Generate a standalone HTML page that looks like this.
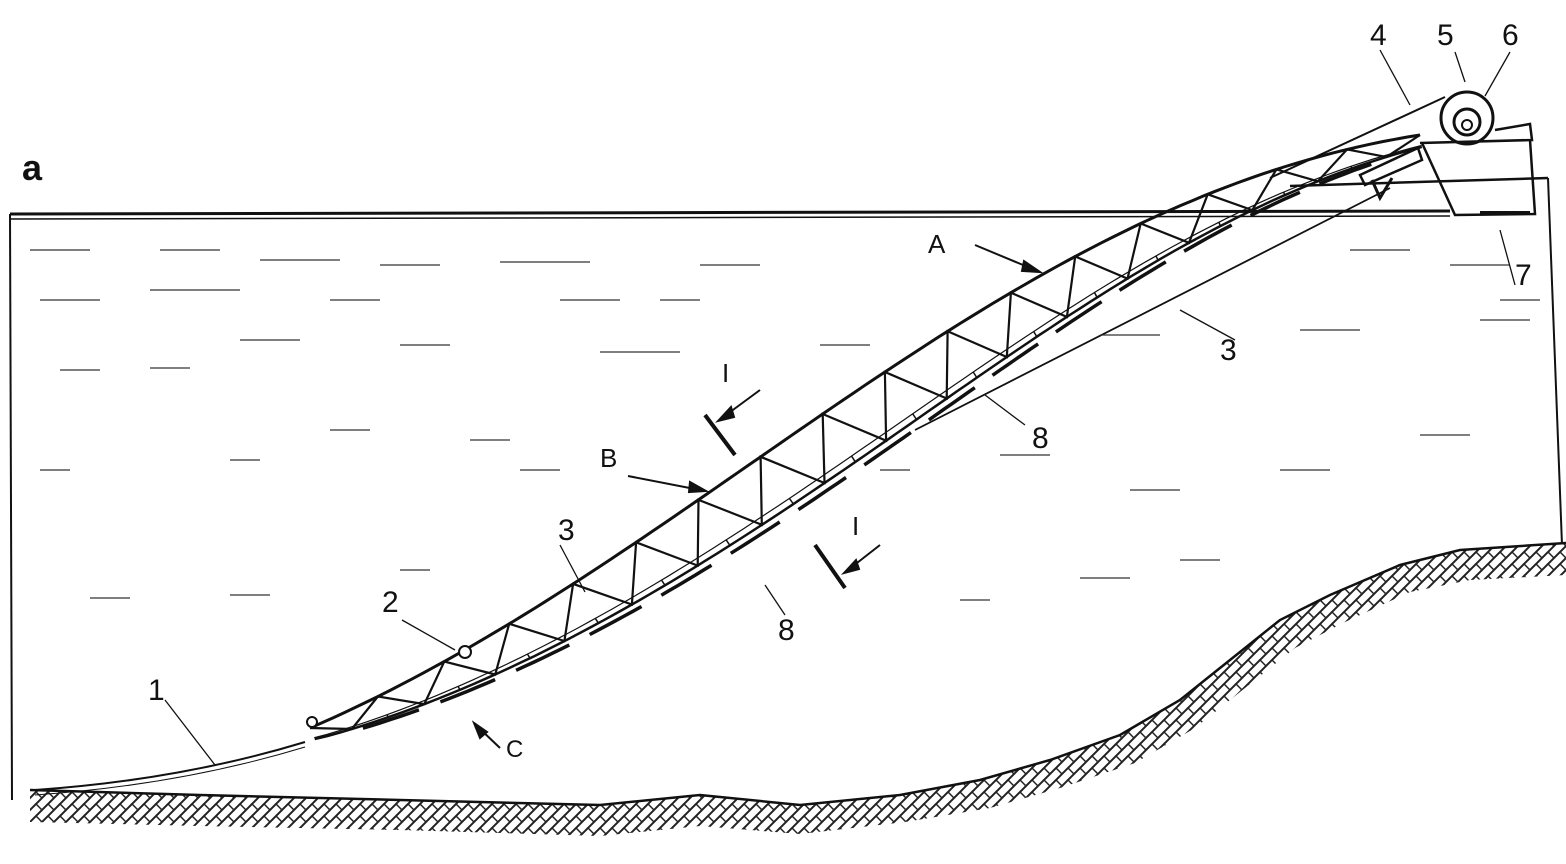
<!DOCTYPE html>
<html><head><meta charset="utf-8"><style>
html,body{margin:0;padding:0;background:#fff;}
svg{display:block;}
text{font-family:"Liberation Sans",sans-serif;fill:#111;}
</style></head><body>
<svg id="s" width="1566" height="864" viewBox="0 0 1566 864" xmlns="http://www.w3.org/2000/svg">
<defs>
<pattern id="h" width="12" height="12" patternUnits="userSpaceOnUse">
<rect width="12" height="12" fill="#fff"/>
<path d="M0,12 L12,0 M-3,3 L3,-3 M9,15 L15,9" stroke="#222" stroke-width="2"/>
<path d="M0,0 L6,6" stroke="#222" stroke-width="1.5"/>
</pattern>
</defs>
<line x1="10" y1="214" x2="1450" y2="211" stroke="#111" stroke-width="3"/>
<line x1="10" y1="219" x2="1450" y2="216" stroke="#111" stroke-width="1.5"/>
<line x1="1290" y1="186" x2="1548" y2="178" stroke="#111" stroke-width="2.5"/>
<line x1="10" y1="214" x2="12" y2="800" stroke="#111" stroke-width="2"/>
<line x1="1548" y1="178" x2="1562" y2="545" stroke="#111" stroke-width="2"/>
<path d="M30,790 L200,795 L400,800 L600,805 L700,795 L800,805 L900,795 L980,780 L1050,760 L1120,735 L1180,700 L1230,660 L1280,620 L1330,595 L1400,565 L1460,550 L1566,543 L1566,575 L1470,580 L1410,592 L1345,622 L1295,648 L1245,688 L1195,728 L1135,763 L1060,788 L990,808 L905,822 L800,834 L700,826 L600,836 L400,830 L200,826 L30,822 Z" fill="url(#h)" stroke="none"/>
<path d="M30,790 L200,795 L400,800 L600,805 L700,795 L800,805 L900,795 L980,780 L1050,760 L1120,735 L1180,700 L1230,660 L1280,620 L1330,595 L1400,565 L1460,550 L1566,543" fill="none" stroke="#111" stroke-width="2.5"/>
<path d="M35,790 Q180,780 305,742" fill="none" stroke="#111" stroke-width="2"/>
<path d="M35,795 Q180,785 305,747" fill="none" stroke="#111" stroke-width="1"/>
<g id="truss"></g>
<line x1="915" y1="430" x2="1390" y2="188" stroke="#111" stroke-width="1.8"/>
<line x1="1270" y1="178" x2="1445" y2="97" stroke="#111" stroke-width="2"/>
<circle cx="1467" cy="118" r="26" fill="#fff" stroke="#111" stroke-width="3"/>
<circle cx="1467" cy="122" r="13" fill="#fff" stroke="#111" stroke-width="3"/>
<circle cx="1467" cy="125" r="5" fill="#fff" stroke="#111" stroke-width="2"/>
<path d="M1495,130 L1530,124 L1532,140 L1420,143" fill="none" stroke="#111" stroke-width="2.5"/>
<path d="M1422,143 L1455,215 L1535,214 L1530,140" fill="none" stroke="#111" stroke-width="2.5"/>
<line x1="1480" y1="213" x2="1530" y2="213" stroke="#111" stroke-width="4"/>
<path d="M1360,175 L1418,148 L1422,160 L1365,185 Z" fill="none" stroke="#111" stroke-width="2.5"/>
<path d="M1372,180 L1380,198 L1392,178" fill="none" stroke="#111" stroke-width="3"/>
<g stroke="#333" stroke-width="1.3" id="dash"></g>
<line x1="705" y1="415" x2="735" y2="455" stroke="#111" stroke-width="4"/>
<line x1="815" y1="545" x2="845" y2="588" stroke="#111" stroke-width="4"/>
<g stroke="#111" stroke-width="2" fill="#111">
<line x1="760" y1="390" x2="722" y2="418"/><polygon points="718,421 731,407 734,417"/>
<line x1="880" y1="545" x2="848" y2="570"/><polygon points="844,573 856,560 859,569"/>
<line x1="975" y1="245" x2="1035" y2="270"/><polygon points="1040,272 1024,261 1022,271"/>
<line x1="628" y1="476" x2="700" y2="490"/><polygon points="706,491 690,482 689,492"/>
<line x1="500" y1="748" x2="478" y2="727"/><polygon points="474,723 480,738 487,732"/>
</g>
<g stroke="#111" stroke-width="1.3" fill="none">
<line x1="1235" y1="340" x2="1180" y2="310"/>
<line x1="1025" y1="425" x2="985" y2="395"/>
<line x1="785" y1="615" x2="765" y2="585"/>
<line x1="560" y1="545" x2="585" y2="592"/>
<line x1="402" y1="620" x2="455" y2="650"/>
<line x1="165" y1="700" x2="215" y2="765"/>
<line x1="1380" y1="50" x2="1410" y2="105"/>
<line x1="1455" y1="52" x2="1465" y2="82"/>
<line x1="1510" y1="52" x2="1485" y2="96"/>
<line x1="1515" y1="285" x2="1500" y2="230"/>
</g>
<circle cx="465" cy="652" r="6" fill="#fff" stroke="#111" stroke-width="2"/>
<circle cx="312" cy="722" r="5" fill="#fff" stroke="#111" stroke-width="2"/>
<g font-size="30">
<text x="22" y="180" font-size="36" font-weight="bold">a</text>
<text x="1370" y="45">4</text><text x="1437" y="45">5</text><text x="1502" y="45">6</text>
<text x="1515" y="285">7</text>
<text x="1220" y="360">3</text>
<text x="1032" y="448">8</text>
<text x="778" y="640">8</text>
<text x="558" y="540">3</text>
<text x="382" y="612">2</text>
<text x="148" y="700">1</text>
<text x="928" y="253" font-size="26">A</text>
<text x="600" y="467" font-size="26">B</text>
<text x="506" y="757" font-size="24">C</text>
<text x="722" y="382" font-size="26">I</text>
<text x="852" y="535" font-size="26">I</text>
</g>
</svg>
<script>
(function(){
var NS="http://www.w3.org/2000/svg",g=document.getElementById("truss");
function P(t){var a=[310,728],b=[700,560],c=[1000,200],d=[1420,135],u=1-t;
return [u*u*u*a[0]+3*u*u*t*b[0]+3*u*t*t*c[0]+t*t*t*d[0],u*u*u*a[1]+3*u*u*t*b[1]+3*u*t*t*c[1]+t*t*t*d[1]];}
function N(t){var p=P(t-0.001),q=P(t+0.001),dx=q[0]-p[0],dy=q[1]-p[1],l=Math.hypot(dx,dy);return [-dy/l,dx/l];}
function off(t,k){var p=P(t),n=N(t),d=(12+46*Math.sin(Math.PI*Math.pow(t,0.9)))*k;return [p[0]+n[0]*d,p[1]+n[1]*d];}
function poly(pts,w){var e=document.createElementNS(NS,"polyline");e.setAttribute("points",pts.map(function(p){return p[0].toFixed(1)+","+p[1].toFixed(1)}).join(" "));e.setAttribute("fill","none");e.setAttribute("stroke","#111");e.setAttribute("stroke-width",w);g.appendChild(e);}
var top=[],bot=[],bot2=[];
for(var i=0;i<=100;i++){var t=i/100;top.push(P(t));bot.push(off(t,1));bot2.push(off(t,0.88));}
poly(top,3);poly(bot,2.5);poly(bot2,1.2);
var M=34,z=[];
for(var i=0;i<=M;i++){var t=i/M;z.push(i%2?off(t,1):P(t));}
poly(z,2.2);
for(var i=2;i<M;i+=2){var t=i/M;poly([off(t,0.88),off(t,1.0)],1.5);}
for(var i=1;i<16;i++){var t0=i/16-0.025,t1=i/16+0.02,a=[];
for(var j=0;j<=6;j++){var t=t0+(t1-t0)*j/6;a.push(off(t,1.13));}
poly(a,3.5);}
var dg=document.getElementById("dash");
var D=[[30,250,60],[160,250,60],[260,260,80],[380,265,60],[500,262,90],[700,265,60],[40,300,60],[150,290,90],[330,300,50],[560,300,60],[60,370,40],[150,368,40],[240,340,60],[400,345,50],[600,352,80],[820,345,50],[1100,335,60],[1300,330,60],[1480,320,50],[40,470,30],[230,460,30],[330,430,40],[470,440,40],[520,470,40],[880,470,30],[1000,455,50],[1130,490,50],[1280,470,50],[1420,435,50],[90,598,40],[230,595,40],[1080,578,50],[1180,560,40],[400,570,30],[660,300,40],[1350,250,60],[1450,265,60],[1500,300,40],[960,600,30]];
D.forEach(function(d){var l=document.createElementNS(NS,"line");l.setAttribute("x1",d[0]);l.setAttribute("y1",d[1]);l.setAttribute("x2",d[0]+d[2]);l.setAttribute("y2",d[1]);dg.appendChild(l);});
})();
</script>
</body></html>
